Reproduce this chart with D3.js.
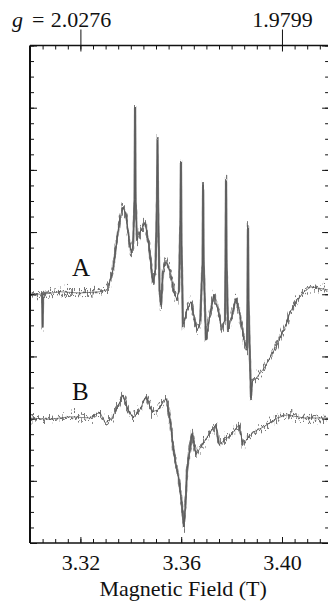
<!DOCTYPE html>
<html>
<head>
<meta charset="utf-8">
<script src="https://cdn.jsdelivr.net/npm/d3@7"></script>
<style>
  body { margin: 0; background: #fff; }
  svg { display: block; }
  text { font-family: "Liberation Serif", "Times New Roman", serif; fill: #111; }
</style>
</head>
<body>
<div class="chart"></div>
<script>
// spectrum A (field in T, signal in arbitrary units)
var fieldA = [3.3000, 3.3040, 3.3048, 3.3050, 3.3052, 3.3119, 3.3198, 3.3278, 3.3306, 3.3317,
  3.3329, 3.3345, 3.3357, 3.3369, 3.3381, 3.3393, 3.3401, 3.3409, 3.3415, 3.3417,
  3.3419, 3.3425, 3.3437, 3.3456, 3.3472, 3.3488, 3.3498, 3.3504, 3.3506, 3.3508,
  3.3514, 3.3520, 3.3528, 3.3540, 3.3556, 3.3571, 3.3583, 3.3591, 3.3597, 3.3599,
  3.3601, 3.3607, 3.3623, 3.3639, 3.3651, 3.3663, 3.3675, 3.3685, 3.3687, 3.3689,
  3.3698, 3.3710, 3.3730, 3.3746, 3.3762, 3.3774, 3.3776, 3.3778, 3.3780, 3.3786,
  3.3798, 3.3817, 3.3833, 3.3849, 3.3861, 3.3863, 3.3865, 3.3867, 3.3873, 3.3877,
  3.3881, 3.3897, 3.3913, 3.3929, 3.3952, 3.3980, 3.4000, 3.4016, 3.4032, 3.4060,
  3.4087, 3.4115, 3.4143, 3.4183];
var signalA = [4.02, 4.00, 4.02, 3.46, 4.00, 4.04, 4.02, 4.04, 4.07, 4.20,
  4.39, 4.87, 5.23, 5.40, 5.28, 4.87, 4.66, 4.79, 5.52, 7.01,
  5.52, 4.87, 5.00, 5.16, 4.79, 4.18, 4.39, 5.52, 6.51, 5.52,
  4.07, 3.80, 4.39, 4.55, 4.36, 4.04, 3.91, 4.07, 5.19, 6.13,
  4.87, 3.47, 3.75, 3.88, 3.62, 3.43, 3.51, 4.55, 5.76, 4.55,
  3.26, 3.59, 3.99, 3.75, 3.43, 3.59, 4.55, 5.84, 4.55, 3.43,
  3.59, 3.94, 3.67, 3.26, 3.10, 3.91, 5.11, 3.91, 2.94, 2.33,
  2.59, 2.65, 2.73, 2.81, 2.98, 3.18, 3.38, 3.51, 3.71, 3.91,
  4.04, 4.12, 4.10, 4.07];

// spectrum B
var fieldB = [3.3000, 3.3079, 3.3159, 3.3238, 3.3266, 3.3278, 3.3298, 3.3325, 3.3349, 3.3369,
  3.3389, 3.3409, 3.3437, 3.3460, 3.3484, 3.3508, 3.3540, 3.3556, 3.3571, 3.3591,
  3.3603, 3.3611, 3.3619, 3.3623, 3.3643, 3.3659, 3.3683, 3.3702, 3.3722, 3.3738,
  3.3750, 3.3774, 3.3798, 3.3829, 3.3845, 3.3865, 3.3889, 3.3929, 3.3980, 3.4020,
  3.4087, 3.4183];
var signalB = [2.01, 1.99, 2.03, 2.01, 2.08, 2.10, 1.93, 2.01, 2.20, 2.38,
  2.14, 2.01, 2.15, 2.36, 2.11, 2.14, 2.33, 1.98, 1.45, 1.01,
  0.61, 0.26, 0.77, 1.17, 1.77, 1.42, 1.58, 1.70, 1.82, 1.90,
  1.58, 1.66, 1.74, 1.90, 1.58, 1.69, 1.79, 1.87, 2.01, 2.06,
  2.01, 2.01];

var fieldLabels = [3.32, 3.36, 3.40];
var gLabels = [2.0276, 1.9799];
var gRefField = 3.32; // field where g = 2.0276

var width = 328, height = 602;
var marginLeft = 30, marginTop = 45.5, marginBottom = 543;
var fieldMin = 3.30, fieldMax = 3.4187;

var svg = d3.select(".chart")
  .append("svg")
  .attr("width", width)
  .attr("height", height);

// vertical-only jitter so the traces look like noisy recordings
var defs = svg.append("defs");
var f = defs.append("filter").attr("id", "noise")
  .attr("filterUnits", "userSpaceOnUse")
  .attr("x", 0).attr("y", 0).attr("width", width).attr("height", height);
f.append("feTurbulence").attr("type", "fractalNoise").attr("baseFrequency", "0.7 0.15")
  .attr("numOctaves", 2).attr("seed", 7).attr("result", "t");
f.append("feColorMatrix").attr("in", "t").attr("type", "matrix")
  .attr("values", "0 0 0 0 0.5  0 1 0 0 0  0 0 1 0 0  0 0 0 0 1").attr("result", "m");
f.append("feDisplacementMap").attr("in", "SourceGraphic").attr("in2", "m")
  .attr("scale", 20).attr("xChannelSelector", "R").attr("yChannelSelector", "G");

var x = d3.scaleLinear().domain([fieldMin, fieldMax])
  .range([marginLeft, marginLeft + (fieldMax - fieldMin) * 2520]);
var y = d3.scaleLinear().domain([0, 8]).range([marginBottom, marginTop]);
var marginRight = x(fieldMax);

var minorField = d3.range(3.30, 3.4187, 0.005);
var gK = gLabels[0] * gRefField;

// frame lines
svg.append("line").attr("x1", marginLeft).attr("x2", width).attr("y1", marginTop).attr("y2", marginTop)
  .attr("stroke", "#111").attr("stroke-width", 1.3);
svg.append("line").attr("x1", marginLeft).attr("x2", width).attr("y1", marginBottom).attr("y2", marginBottom)
  .attr("stroke", "#111").attr("stroke-width", 1.5);
svg.append("line").attr("x1", marginLeft).attr("x2", marginLeft).attr("y1", marginTop).attr("y2", marginBottom)
  .attr("stroke", "#111").attr("stroke-width", 2);

// bottom axis
svg.append("g").attr("transform", "translate(0," + marginBottom + ")")
  .call(d3.axisBottom(x).tickValues(minorField).tickSize(-4).tickFormat(""));
var bMajor = svg.append("g").attr("transform", "translate(0," + marginBottom + ")")
  .call(d3.axisBottom(x).tickValues(fieldLabels).tickSize(-6).tickPadding(11)
    .tickFormat(d3.format(".2f")));
bMajor.selectAll("text").attr("font-size", 22);

// top axis: minor ticks + g ticks
svg.append("g").attr("transform", "translate(0," + marginTop + ")")
  .call(d3.axisTop(x).tickValues(minorField).tickSize(-4).tickFormat(""));
var gAxis = svg.append("g").attr("transform", "translate(0," + marginTop + ")")
  .call(d3.axisTop(x).tickValues(gLabels.map(function (g) { return gK / g; }))
    .tickSize(16).tickPadding(3)
    .tickFormat(function (d, i) { return d3.format(".4f")(gLabels[i]); }));
gAxis.selectAll(".tick line").attr("y2", -16).attr("y1", 6);
gAxis.selectAll("text").attr("font-size", 22);

// "g =" prefix to the first g label
var firstX = x(gK / gLabels[0]);
var gPre = svg.append("text").attr("y", 26.5).attr("font-size", 22).attr("text-anchor", "end")
  .attr("x", firstX - 36);
gPre.append("tspan").attr("font-style", "italic").text("g");
gPre.append("tspan").attr("dx", 9).text("=");

// left and right axes
var yMinor = d3.range(0, 8.01, 0.25);
var yMajor = d3.range(0, 8.01, 1);
svg.append("g").attr("transform", "translate(" + marginLeft + ",0)")
  .call(d3.axisLeft(y).tickValues(yMinor).tickSize(-4).tickFormat(""));
svg.append("g").attr("transform", "translate(" + marginLeft + ",0)")
  .call(d3.axisLeft(y).tickValues(yMajor).tickSize(-7).tickFormat(""));
svg.append("g").attr("transform", "translate(" + marginRight + ",0)")
  .call(d3.axisRight(y).tickValues(yMinor).tickSize(-4).tickFormat(""));
svg.append("g").attr("transform", "translate(" + marginRight + ",0)")
  .call(d3.axisRight(y).tickValues(yMajor).tickSize(-7).tickFormat(""));

svg.selectAll(".domain").remove();
svg.selectAll(".tick line").attr("stroke", "#111").attr("stroke-width", 1);

// traces
var line = d3.line()
  .x(function (d) { return x(d[0]); })
  .y(function (d) { return y(d[1]); });

var clip = defs.append("clipPath").attr("id", "plot");
clip.append("rect").attr("x", marginLeft + 1).attr("y", marginTop)
  .attr("width", marginRight - marginLeft).attr("height", marginBottom - marginTop);

var traces = [d3.zip(fieldA, signalA), d3.zip(fieldB, signalB)];
var tg = svg.append("g").attr("clip-path", "url(#plot)");
traces.forEach(function (t) {
  tg.append("path").datum(t).attr("d", line)
    .attr("fill", "none").attr("stroke", "#888").attr("stroke-width", 1);
  tg.append("path").datum(t).attr("d", line)
    .attr("fill", "none").attr("stroke", "#4a4a4a").attr("stroke-width", 2.3)
    .attr("stroke-opacity", 0.75)
    .attr("stroke-linejoin", "round").attr("filter", "url(#noise)");
});

// labels
svg.append("text").attr("x", 72).attr("y", 276).attr("font-size", 25).text("A");
svg.append("text").attr("x", 72).attr("y", 400).attr("font-size", 25).text("B");

svg.append("text").attr("x", x(3.36) + 2).attr("y", 596).attr("text-anchor", "middle")
  .attr("font-size", 22).text("Magnetic Field (T)");
</script>
</body>
</html>
